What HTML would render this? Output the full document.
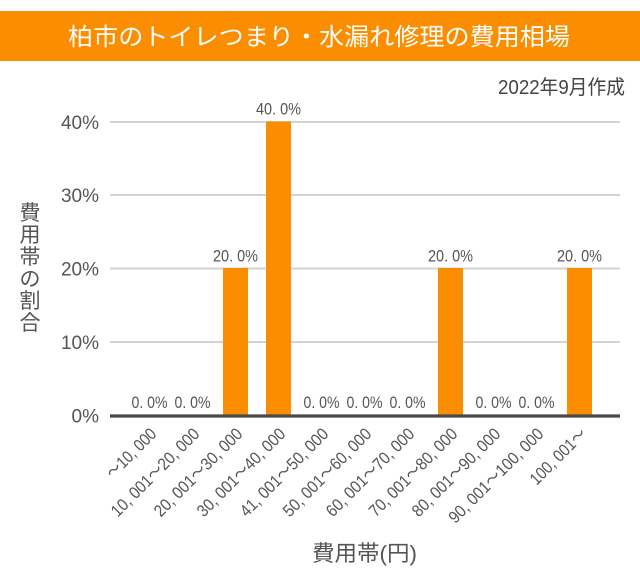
<!DOCTYPE html>
<html>
<head>
<meta charset="utf-8">
<style>
html,body{margin:0;padding:0;background:#fff;}
svg{display:block;}
</style>
</head>
<body>
<svg width="640" height="580" viewBox="0 0 640 580" xmlns="http://www.w3.org/2000/svg">
  <rect x="0" y="0" width="640" height="580" fill="#ffffff"/>
  <!-- title band -->
  <rect x="0" y="11" width="640" height="50" fill="#FB8E00"/>
  <text x="68" y="45" font-family="'Liberation Sans','Noto Sans CJK JP',sans-serif" font-size="24" fill="#ffffff" textLength="502" lengthAdjust="spacingAndGlyphs">柏市のトイレつまり・水漏れ修理の費用相場</text>
  <!-- date -->
  <text x="498" y="94" font-family="'Liberation Sans','Noto Sans CJK JP',sans-serif" font-size="20" fill="#444" textLength="127" lengthAdjust="spacingAndGlyphs">2022年9月作成</text>

  <!-- gridlines -->
  <g stroke="#d3d3d3" stroke-width="2">
    <line x1="110" y1="122" x2="620" y2="122"/>
    <line x1="110" y1="195" x2="620" y2="195"/>
    <line x1="110" y1="268.5" x2="620" y2="268.5"/>
    <line x1="110" y1="342" x2="620" y2="342"/>
  </g>

  <!-- y tick labels -->
  <g font-family="'Liberation Sans',sans-serif" font-size="19" fill="#555" text-anchor="end">
    <text x="99" y="129">40%</text>
    <text x="99" y="202">30%</text>
    <text x="99" y="275.5">20%</text>
    <text x="99" y="349">10%</text>
    <text x="99" y="422.5">0%</text>
  </g>

  <!-- y axis title -->
  <g font-family="'Liberation Sans','Noto Sans CJK JP',sans-serif" font-size="21" fill="#555" text-anchor="middle">
    <text x="30" y="220">費</text>
    <text x="30" y="242">用</text>
    <text x="30" y="264">帯</text>
    <text x="30" y="286">の</text>
    <text x="30" y="308">割</text>
    <text x="30" y="330">合</text>
  </g>

  <!-- bars -->
  <g fill="#FB8E00">
    <rect x="223" y="268" width="25" height="148"/>
    <rect x="266" y="121.5" width="25" height="294.5"/>
    <rect x="438" y="268" width="25" height="148"/>
    <rect x="567" y="268" width="25" height="148"/>
  </g>

  <!-- axis line -->
  <line x1="110" y1="416" x2="620" y2="416" stroke="#4a4a4a" stroke-width="3.3"/>

  <!-- value labels -->
  <g font-family="'Liberation Sans',sans-serif" font-size="17" fill="#555" text-anchor="middle">
    <text x="149.5" y="408" textLength="36" lengthAdjust="spacingAndGlyphs">0. 0%</text>
    <text x="192.5" y="408" textLength="36" lengthAdjust="spacingAndGlyphs">0. 0%</text>
    <text x="235.5" y="261.5" textLength="45" lengthAdjust="spacingAndGlyphs">20. 0%</text>
    <text x="278.5" y="114.5" textLength="45" lengthAdjust="spacingAndGlyphs">40. 0%</text>
    <text x="321.5" y="408" textLength="36" lengthAdjust="spacingAndGlyphs">0. 0%</text>
    <text x="364.5" y="408" textLength="36" lengthAdjust="spacingAndGlyphs">0. 0%</text>
    <text x="407.5" y="408" textLength="36" lengthAdjust="spacingAndGlyphs">0. 0%</text>
    <text x="450.5" y="261.5" textLength="45" lengthAdjust="spacingAndGlyphs">20. 0%</text>
    <text x="493.5" y="408" textLength="36" lengthAdjust="spacingAndGlyphs">0. 0%</text>
    <text x="536.5" y="408" textLength="36" lengthAdjust="spacingAndGlyphs">0. 0%</text>
    <text x="579.5" y="261.5" textLength="45" lengthAdjust="spacingAndGlyphs">20. 0%</text>
  </g>

  <!-- x category labels (rotated) -->
  <g font-family="'Liberation Sans','Noto Sans CJK JP',sans-serif" font-size="17" fill="#555" text-anchor="end">
    <text x="157.5" y="435" transform="rotate(-45 157.5 435)" textLength="63" lengthAdjust="spacingAndGlyphs">～10, 000</text>
    <text x="200.5" y="435" transform="rotate(-45 200.5 435)" textLength="117" lengthAdjust="spacingAndGlyphs">10, 001～20, 000</text>
    <text x="243.5" y="435" transform="rotate(-45 243.5 435)" textLength="117" lengthAdjust="spacingAndGlyphs">20, 001～30, 000</text>
    <text x="286.5" y="435" transform="rotate(-45 286.5 435)" textLength="117" lengthAdjust="spacingAndGlyphs">30, 001～40, 000</text>
    <text x="329.5" y="435" transform="rotate(-45 329.5 435)" textLength="117" lengthAdjust="spacingAndGlyphs">41, 001～50, 000</text>
    <text x="372.5" y="435" transform="rotate(-45 372.5 435)" textLength="117" lengthAdjust="spacingAndGlyphs">50, 001～60, 000</text>
    <text x="415.5" y="435" transform="rotate(-45 415.5 435)" textLength="117" lengthAdjust="spacingAndGlyphs">60, 001～70, 000</text>
    <text x="458.5" y="435" transform="rotate(-45 458.5 435)" textLength="117" lengthAdjust="spacingAndGlyphs">70, 001～80, 000</text>
    <text x="501.5" y="435" transform="rotate(-45 501.5 435)" textLength="117" lengthAdjust="spacingAndGlyphs">80, 001～90, 000</text>
    <text x="544.5" y="435" transform="rotate(-45 544.5 435)" textLength="126" lengthAdjust="spacingAndGlyphs">90, 001～100, 000</text>
    <text x="587.5" y="435" transform="rotate(-45 587.5 435)" textLength="72" lengthAdjust="spacingAndGlyphs">100, 001～</text>
  </g>

  <!-- x axis title -->
  <text x="312" y="561" font-family="'Liberation Sans','Noto Sans CJK JP',sans-serif" font-size="22" fill="#555" textLength="105" lengthAdjust="spacingAndGlyphs">費用帯(円)</text>
</svg>
</body>
</html>
